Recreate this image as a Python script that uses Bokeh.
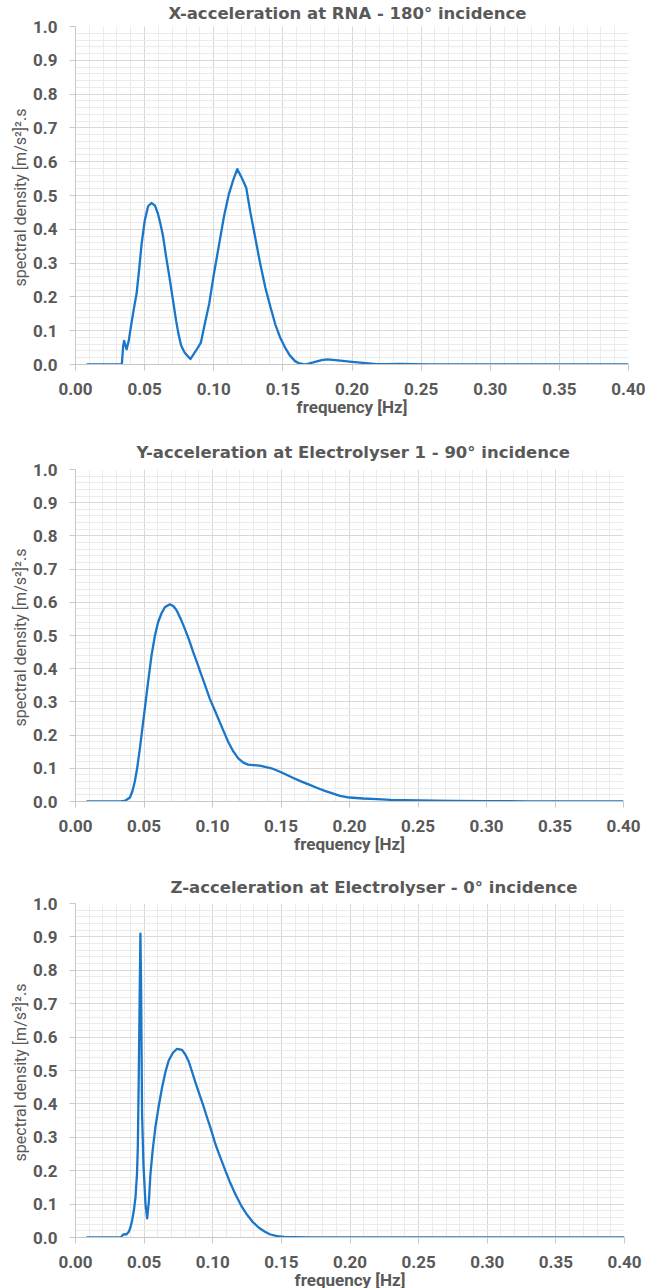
from bokeh.plotting import figure
from bokeh.layouts import column
from bokeh.models import Range1d, FixedTicker, NumeralTickFormatter, Title
from bokeh.embed import file_html
from bokeh.resources import INLINE

# Spectral density curves (frequency in Hz, density in (m/s^2)^2.s)
freq_x = [0.008, 0.0335, 0.0345, 0.0352, 0.0362, 0.037, 0.0385, 0.040, 0.042, 0.0442,
          0.046, 0.0478, 0.0501, 0.0525, 0.0549, 0.0575, 0.0597, 0.0615, 0.0633, 0.0655,
          0.068, 0.0705, 0.0728, 0.0745, 0.0764, 0.079, 0.0831, 0.087, 0.0907, 0.0935,
          0.0967, 0.100, 0.1039, 0.1075, 0.111, 0.114, 0.117, 0.1205, 0.1235, 0.1265,
          0.130, 0.1335, 0.1373, 0.141, 0.1445, 0.148, 0.1516, 0.155, 0.1588, 0.162,
          0.166, 0.172, 0.178, 0.182, 0.190, 0.200, 0.210, 0.218, 0.225, 0.235,
          0.245, 0.255, 0.40]
psd_x = [0.0, 0.0, 0.055, 0.07, 0.055, 0.045, 0.07, 0.11, 0.16, 0.21,
         0.28, 0.356, 0.426, 0.468, 0.478, 0.47, 0.445, 0.415, 0.38, 0.32,
         0.257, 0.19, 0.129, 0.09, 0.056, 0.035, 0.016, 0.04, 0.065, 0.12,
         0.18, 0.265, 0.356, 0.44, 0.505, 0.545, 0.578, 0.55, 0.523, 0.45,
         0.376, 0.30, 0.228, 0.17, 0.119, 0.08, 0.05, 0.027, 0.01, 0.003,
         0.0, 0.006, 0.013, 0.015, 0.012, 0.008, 0.004, 0.001, 0.001, 0.002,
         0.001, 0.0, 0.0]

freq_y = [0.008, 0.033, 0.0365, 0.0397, 0.0415, 0.0433, 0.045, 0.047, 0.0488, 0.0506,
          0.053, 0.0555, 0.058, 0.0603, 0.0628, 0.0652, 0.0689, 0.0715, 0.0738, 0.0768,
          0.0798, 0.0829, 0.0859, 0.089, 0.092, 0.095, 0.098, 0.1011, 0.1042, 0.1078,
          0.1114, 0.115, 0.1188, 0.1225, 0.126, 0.1345, 0.143, 0.148, 0.1528, 0.159,
          0.165, 0.171, 0.177, 0.182, 0.187, 0.193, 0.200, 0.210, 0.220, 0.230,
          0.250, 0.275, 0.300, 0.330, 0.360, 0.40]
psd_y = [0.0, 0.0, 0.003, 0.012, 0.03, 0.06, 0.10, 0.16, 0.22, 0.28,
         0.36, 0.44, 0.50, 0.54, 0.567, 0.585, 0.594, 0.588, 0.576, 0.55,
         0.52, 0.487, 0.45, 0.415, 0.38, 0.345, 0.31, 0.28, 0.25, 0.215,
         0.18, 0.152, 0.13, 0.117, 0.111, 0.108, 0.10, 0.092, 0.083, 0.071,
         0.06, 0.05, 0.04, 0.032, 0.025, 0.017, 0.012, 0.009, 0.007, 0.005,
         0.003, 0.002, 0.001, 0.0005, 0.0, 0.0]

freq_z = [0.008, 0.033, 0.0345, 0.0355, 0.037, 0.0388, 0.040, 0.0412, 0.0425, 0.0437,
          0.0448, 0.0454, 0.046, 0.0467, 0.0473, 0.0478, 0.0485, 0.0495, 0.051, 0.0522,
          0.0535, 0.0546, 0.0562, 0.0582, 0.0605, 0.0631, 0.0655, 0.0679, 0.071, 0.074,
          0.0776, 0.080, 0.0825, 0.085, 0.0873, 0.091, 0.0935, 0.0958, 0.099, 0.1019,
          0.1055, 0.1092, 0.1128, 0.1164, 0.1205, 0.125, 0.129, 0.1334, 0.138, 0.142,
          0.147, 0.152, 0.160, 0.170, 0.40]
psd_z = [0.0, 0.0, 0.008, 0.01, 0.009, 0.017, 0.03, 0.05, 0.08, 0.12,
         0.19, 0.27, 0.45, 0.70, 0.91, 0.75, 0.37, 0.22, 0.10, 0.057,
         0.11, 0.19, 0.26, 0.33, 0.39, 0.45, 0.495, 0.53, 0.553, 0.565,
         0.562, 0.548, 0.527, 0.495, 0.465, 0.42, 0.39, 0.36, 0.32, 0.28,
         0.24, 0.20, 0.163, 0.13, 0.097, 0.068, 0.047, 0.03, 0.017, 0.009,
         0.004, 0.002, 0.001, 0.0, 0.0]

titles = ["X-acceleration at RNA - 180\u00b0 incidence",
          "Y-acceleration at Electrolyser 1 - 90\u00b0 incidence",
          "Z-acceleration at Electrolyser - 0\u00b0 incidence"]
x_label = "frequency [Hz]"
y_label = "spectral  density [m/s\u00b2]\u00b2.s"

x_major = [round(0.05 * i, 2) for i in range(9)]
x_minor = [round(0.01 * i, 2) for i in range(41)]
y_major = [round(0.1 * i, 1) for i in range(11)]
y_minor = [round(0.02 * i, 2) for i in range(51)]

TEXT = "#595959"
LINE = "#1a76c9"
FONT = "Roboto"


def panel(title, freq, psd, left, right, top, bottom, fw, fh, t_standoff, t_offset):
    p = figure(frame_width=fw, frame_height=fh,
               x_range=Range1d(0, 0.4), y_range=Range1d(0, 1.0),
               output_backend="svg", toolbar_location=None,
               min_border_left=left, min_border_right=right,
               min_border_top=top, min_border_bottom=bottom,
               background_fill_color="white", border_fill_color="white",
               outline_line_color=None)
    p.title.text = title
    p.title.align = "left"
    p.title.vertical_align = "top"
    p.title.offset = t_offset
    p.title.text_font = "DejaVu Sans"
    p.title.text_font_size = "16.5px"
    p.title.text_font_style = "bold"
    p.title.text_color = TEXT
    p.title.standoff = t_standoff

    p.xaxis.ticker = FixedTicker(ticks=x_major, minor_ticks=x_minor)
    p.yaxis.ticker = FixedTicker(ticks=y_major, minor_ticks=y_minor)
    p.xaxis.formatter = NumeralTickFormatter(format="0.00")
    p.yaxis.formatter = NumeralTickFormatter(format="0.0")

    for ax in (p.xaxis, p.yaxis):
        ax.axis_line_color = "#c8c8c8"
        ax.major_tick_line_color = "#c8c8c8"
        ax.major_tick_out = 6
        ax.major_tick_in = 0
        ax.minor_tick_line_color = None
        ax.major_label_text_font = FONT
        ax.major_label_text_font_size = "17px"
        ax.major_label_text_font_style = "bold"
        ax.major_label_text_color = TEXT
    p.xaxis.major_label_standoff = 12
    p.yaxis.major_label_standoff = 12

    # axis titles as side panels
    xt = Title(text=x_label, align="center", text_font=FONT, text_font_size="17px",
               text_font_style="bold", text_color=TEXT, standoff=-5)
    p.add_layout(xt, "below")
    yt = Title(text=y_label, align="center", text_font=FONT, text_font_size="16px",
               text_font_style="normal", text_color=TEXT, standoff=1)
    p.add_layout(yt, "left")

    for g in (p.xgrid, p.ygrid):
        g.grid_line_color = "#d9d9d9"
        g.grid_line_width = 1
        g.minor_grid_line_color = "#ebebeb"
        g.minor_grid_line_width = 1

    p.line(freq, psd, line_color=LINE, line_width=2.3, line_join="round")
    return p


p1 = panel(titles[0], freq_x, psd_x, 74, 18, 26, 66, 553, 338, 4, 93)
p2 = panel(titles[1], freq_y, psd_y, 74, 23, 39, 61, 548, 332, 11, 61)
p3 = panel(titles[2], freq_z, psd_z, 75, 21, 41, 52, 549, 334, 9, 95)

layout = column(p1, p2, p3, spacing=0)

with open("out.html", "w") as f:
    f.write(file_html(layout, INLINE))
